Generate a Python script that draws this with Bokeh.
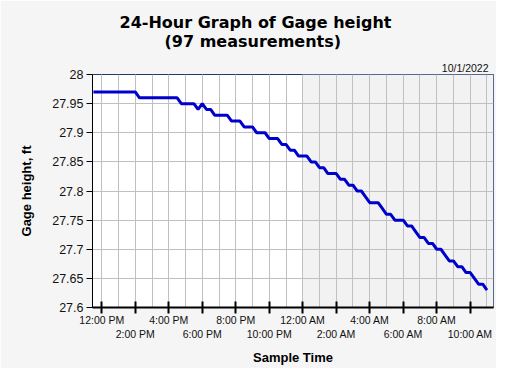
import pandas as pd
from bokeh.plotting import figure
from bokeh.models import FixedTicker, BoxAnnotation, Title, Range1d, ColumnDataSource
from bokeh.embed import file_html
from bokeh.resources import INLINE

# ---------------- data ----------------
title_line1 = "24-Hour Graph of Gage height"
title_line2 = "(97 measurements)"
date_text = "10/1/2022"
x_label = "Sample Time"
y_label = "Gage height, ft"

start_time = "2022-09-30 11:30"
sample_interval = "15min"
reference_noon = "2022-09-30 12:00"
new_day_start = "2022-10-01 00:00"

gage_height = [
    27.97, 27.97, 27.97, 27.97, 27.97, 27.97, 27.97, 27.97, 27.97, 27.97, 27.97,
    27.96, 27.96, 27.96, 27.96, 27.96, 27.96, 27.96, 27.96, 27.96, 27.96,
    27.95, 27.95, 27.95, 27.95, 27.94, 27.95, 27.94, 27.94,
    27.93, 27.93, 27.93, 27.93, 27.92, 27.92, 27.92,
    27.91, 27.91, 27.91, 27.90, 27.90, 27.90, 27.89, 27.89, 27.89,
    27.88, 27.88, 27.87, 27.87,
    27.86, 27.86, 27.86, 27.85, 27.85, 27.84, 27.84, 27.83, 27.83, 27.83,
    27.82, 27.82, 27.81, 27.81, 27.80, 27.80, 27.79, 27.78, 27.78, 27.78,
    27.77, 27.76, 27.76, 27.75, 27.75, 27.75, 27.74, 27.74, 27.73, 27.72, 27.72,
    27.71, 27.71, 27.70, 27.70, 27.69, 27.68, 27.68, 27.67, 27.67,
    27.66, 27.66, 27.65, 27.64, 27.64, 27.63,
]

y_ticks = [27.6, 27.65, 27.7, 27.75, 27.8, 27.85, 27.9, 27.95, 28.0]
y_tick_labels = ["27.6", "27.65", "27.7", "27.75", "27.8", "27.85", "27.9", "27.95", "28"]

x_tick_hours = [0, 2, 4, 6, 8, 10, 12, 14, 16, 18, 20, 22]
x_tick_labels = ["12:00 PM", "2:00 PM", "4:00 PM", "6:00 PM", "8:00 PM", "10:00 PM",
                 "12:00 AM", "2:00 AM", "4:00 AM", "6:00 AM", "8:00 AM", "10:00 AM"]
x_grid_hours = list(range(0, 24))
x_view = [-0.555, 23.39]
y_view = [27.6, 28.0]

# ---------------- build ----------------
times = pd.date_range(start_time, periods=len(gage_height), freq=sample_interval)
hours = (times - pd.Timestamp(reference_noon)) / pd.Timedelta(hours=1)
src = ColumnDataSource(dict(hours=list(hours), gage=gage_height))
midnight = (pd.Timestamp(new_day_start) - pd.Timestamp(reference_noon)) / pd.Timedelta(hours=1)

p = figure(width=496, height=368, output_backend="svg", toolbar_location=None,
           x_range=Range1d(*x_view), y_range=Range1d(*y_view),
           min_border_left=92, min_border_right=3, min_border_top=74, min_border_bottom=61,
           background_fill_color="white", border_fill_color="#f5f5f5",
           outline_line_color="#1f3b6b", outline_line_width=1)

p.add_layout(BoxAnnotation(left=midnight, fill_color="#f2f2f2", fill_alpha=1.0,
                           line_alpha=0, level="image"))

p.line(x="hours", y="gage", source=src, line_color="#0000cc", line_width=3)

# titles (closest to frame first)
p.add_layout(Title(text=date_text, align="right", text_font="Liberation Sans",
                   text_font_size="10.5px", text_font_style="normal", text_color="#111111",
                   standoff=1, offset=5), "above")
p.add_layout(Title(text=title_line2, align="left", text_font="DejaVu Sans",
                   text_font_size="16px", text_font_style="bold", text_color="#000000",
                   standoff=18, offset=72), "above")
p.add_layout(Title(text=title_line1, align="left", text_font="DejaVu Sans",
                   text_font_size="16px", text_font_style="bold", text_color="#000000",
                   standoff=-22, offset=27), "above")

# x axis
xa = p.xaxis[0]
xa.ticker = FixedTicker(ticks=x_tick_hours, minor_ticks=x_grid_hours)
overrides = {}
for i, (h, lab) in enumerate(zip(x_tick_hours, x_tick_labels)):
    overrides[h] = lab if i % 2 == 0 else "\n" + lab
xa.major_label_overrides = overrides
xa.major_label_text_font = "Liberation Sans"
xa.major_label_text_font_size = "10.5px"
xa.major_label_text_color = "#111111"
xa.major_label_standoff = 0
xa.major_tick_in = 6
xa.major_tick_out = 6
xa.minor_tick_line_color = None
xa.axis_line_color = "black"
xa.axis_line_width = 2
xa.major_tick_line_color = "black"
xa.major_tick_line_width = 2
xa.axis_label = x_label
xa.axis_label_text_font = "Liberation Sans"
xa.axis_label_text_font_size = "13px"
xa.axis_label_text_font_style = "bold"
xa.axis_label_text_color = "#000000"
xa.axis_label_standoff = 7

# y axis
ya = p.yaxis[0]
ya.ticker = FixedTicker(ticks=y_ticks)
ya.major_label_overrides = dict(zip(y_ticks, y_tick_labels))
ya.major_label_text_font = "Liberation Sans"
ya.major_label_text_font_size = "12.5px"
ya.major_label_text_color = "#111111"
ya.major_label_standoff = 3
ya.major_tick_in = 0
ya.major_tick_out = 6
ya.minor_tick_line_color = None
ya.axis_line_color = "black"
ya.axis_line_width = 1
ya.axis_label = y_label
ya.axis_label_text_font = "Liberation Sans"
ya.axis_label_text_font_size = "13px"
ya.axis_label_text_font_style = "bold"
ya.axis_label_text_color = "#000000"
ya.axis_label_standoff = 15

# grids
p.xgrid.grid_line_color = "#c0c0c0"
p.xgrid.minor_grid_line_color = "#c0c0c0"
p.ygrid.grid_line_color = "#c0c0c0"

open("out.html", "w").write(file_html(p, INLINE))
